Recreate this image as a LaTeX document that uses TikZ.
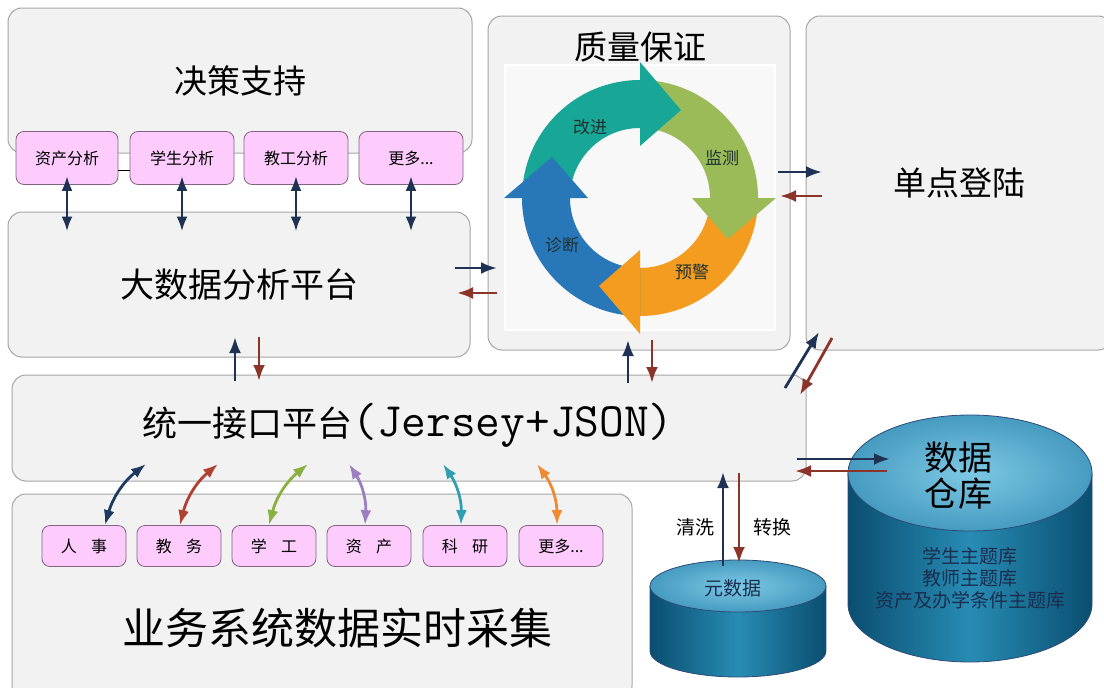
\documentclass[tikz,border=0pt]{standalone}
\usepackage{fontspec}
\setmainfont{Noto Sans CJK SC}
\usetikzlibrary{arrows.meta}

\newcommand{\fsz}[1]{\fontsize{#1}{#1}\selectfont}

\definecolor{navy}{RGB}{31,50,84}
\definecolor{brick}{RGB}{140,52,42}
\definecolor{panelfill}{RGB}{242,242,242}
\definecolor{panelline}{RGB}{166,166,166}
\definecolor{pinkfill}{RGB}{253,204,253}
\definecolor{pinkline}{RGB}{130,100,130}
\definecolor{cteal}{RGB}{24,166,150}
\definecolor{cgreen}{RGB}{155,187,89}
\definecolor{corange}{RGB}{243,156,31}
\definecolor{cblue}{RGB}{40,120,185}
\definecolor{ctext}{RGB}{30,50,50}
\definecolor{cyldark}{RGB}{10,78,112}
\definecolor{cylmid}{RGB}{40,140,180}
\definecolor{cyltop}{RGB}{125,200,228}
\definecolor{cyltopb}{RGB}{70,155,192}
\definecolor{cylline}{RGB}{45,75,120}
\definecolor{cyltext}{RGB}{25,45,80}
\definecolor{anavy}{RGB}{31,58,96}
\definecolor{ared}{RGB}{176,64,48}
\definecolor{agreen}{RGB}{138,176,64}
\definecolor{apurple}{RGB}{154,128,192}
\definecolor{ateal}{RGB}{48,160,176}
\definecolor{aorange}{RGB}{240,138,48}

\tikzset{
  panel/.style={draw=panelline, fill=panelfill, rounded corners=14pt, line width=1pt},
  tag/.style={draw=pinkline, fill=pinkfill, rounded corners=8pt, line width=0.8pt, font=\fsz{16}},
  link/.style={navy, line width=2.8pt, -{Latex[length=16pt,width=12pt]}},
  back/.style={brick, line width=2.8pt, -{Latex[length=16pt,width=12pt]}},
  twoway/.style={line width=2.8pt, {Latex[length=15pt,width=11pt]}-{Latex[length=15pt,width=11pt]}},
  cyclabel/.style={font=\fsz{17}, text=ctext}
}

\begin{document}
\begin{tikzpicture}[x=1pt, y=-1pt]
\useasboundingbox[fill=white] (0,0) rectangle (1104,688);

% big panels
\node[panel, minimum width=464pt, minimum height=145pt, font=\fsz{33}] (dec) at (240,80.5) {决策支持};
\node[panel, minimum width=462pt, minimum height=145pt, font=\fsz{34}] (bd) at (239,284.5) {大数据分析平台};
\node[panel, minimum width=302pt, minimum height=334pt] (qa) at (639,183) {};
\node[panel, minimum width=306pt, minimum height=334pt, font=\fsz{33}] (sso) at (959,183) {单点登陆};
\node[panel, minimum width=794pt, minimum height=106pt] (api) at (409,428) {};
\node[panel, minimum width=620pt, minimum height=206pt] (ys) at (322,597) {};

\node[font=\fsz{35}] (apit) at (408,425) {统一接口平台{\ttfamily\addfontfeatures{FakeBold=1.4}\fsz{48}(Jersey+JSON)}};
\node[font=\fsz{43}] (yst) at (337,628) {业务系统数据实时采集};

% quality loop
\node[fill=panelfill!50!white, draw=white, line width=1.5pt, minimum width=270pt, minimum height=265pt] (inner) at (640,197.5) {};
\node[font=\fsz{33}] (qat) at (640,47) {质量保证};
\begin{scope}[shift={(640,198)}, yscale=-1]
  \foreach \a/\c [evaluate=\a as \b using \a-90] in {180/cteal, 90/cgreen, 0/corange, -90/cblue}
    \fill[\c] (\a:118) arc[start angle=\a, end angle=\b, radius=118] -- (\b:70) arc[start angle=\b, end angle=\a, radius=70] -- cycle;
  \foreach \a/\c [evaluate=\a as \b using \a-90, evaluate=\a as \t using \a-115] in {180/cteal, 90/cgreen, 0/corange, -90/cblue}
    \fill[\c] (\b:136) -- (\t:97) -- (\b:52) -- cycle;
\end{scope}
\node[cyclabel] (gj) at (590,127) {改进};
\node[cyclabel] (jc) at (722,158) {监测};
\node[cyclabel] (yj) at (692,272) {预警};
\node[cyclabel] (zd) at (562,245) {诊断};

% analysis tags
\node[tag, minimum width=102pt, minimum height=53pt] (p1) at (67,158) {资产分析};
\node[tag, minimum width=104pt, minimum height=53pt] (p2) at (182,158) {学生分析};
\node[tag, minimum width=104pt, minimum height=53pt] (p3) at (296,158) {教工分析};
\node[tag, minimum width=104pt, minimum height=53pt] (p4) at (411,158) {更多...};
\draw[thin] ([yshift=-12pt]p1.east) -- ([yshift=-12pt]p2.west);

% source tags
\node[tag, minimum width=84pt, minimum height=41pt] (q1) at (84,546) {人\hspace{0.9em}事};
\node[tag, minimum width=84pt, minimum height=41pt] (q2) at (179,546) {教\hspace{0.9em}务};
\node[tag, minimum width=84pt, minimum height=41pt] (q3) at (274,546) {学\hspace{0.9em}工};
\node[tag, minimum width=84pt, minimum height=41pt] (q4) at (369,546) {资\hspace{0.9em}产};
\node[tag, minimum width=84pt, minimum height=41pt] (q5) at (465,546) {科\hspace{0.9em}研};
\node[tag, minimum width=84pt, minimum height=41pt] (q6) at (561,546) {更多...};

% data warehouse
\shade[left color=cyldark, right color=cyldark, middle color=cylmid, draw=cylline, line width=0.8pt]
  (848,473) -- (848,604) arc[start angle=180, end angle=0, x radius=122, y radius=58] -- (1092,473) -- cycle;
\shade[inner color=cyltop, outer color=cyltopb, draw=cylline, line width=0.8pt] (970,473) ellipse[x radius=122, y radius=58];
\node[font=\fsz{34}, align=center] (dw) at (958,476) {数据\\[2pt]仓库};
\node[font=\fsz{19}, text=cyltext, align=center] (dwt) at (970,578) {学生主题库\\[3pt]教师主题库\\[3pt]资产及办学条件主题库};

% meta data
\shade[left color=cyldark, right color=cyldark, middle color=cylmid, draw=cylline, line width=0.8pt]
  (650,586) -- (650,651) arc[start angle=180, end angle=0, x radius=88, y radius=26] -- (826,586) -- cycle;
\shade[inner color=cyltop, outer color=cyltopb, draw=cylline, line width=0.8pt] (738,586) ellipse[x radius=88, y radius=26];
\node[font=\fsz{19}, text=cyltext] (meta) at (733,588) {元数据};
\node[font=\fsz{19}] (qx) at (695,527) {清洗};
\node[font=\fsz{19}] (zh) at (772,527) {转换};

% arrow ends
\coordinate (bq1) at (455,268); \coordinate (bq2) at (497,268);
\coordinate (bq3) at (497,293); \coordinate (bq4) at (457,293);
\coordinate (qs1) at (778,172); \coordinate (qs2) at (822,172);
\coordinate (qs3) at (822,196); \coordinate (qs4) at (780,196);
\coordinate (ab1) at (235,381); \coordinate (ab2) at (235,337);
\coordinate (ab3) at (259,337); \coordinate (ab4) at (259,381);
\coordinate (aq1) at (628,383); \coordinate (aq2) at (628,340);
\coordinate (aq3) at (652,340); \coordinate (aq4) at (652,383);
\coordinate (as1) at (785,388); \coordinate (as2) at (819,332);
\coordinate (as3) at (832,338); \coordinate (as4) at (800,395);
\coordinate (aw1) at (797,459); \coordinate (aw2) at (890,459);
\coordinate (aw3) at (887,471); \coordinate (aw4) at (795,471);
\coordinate (am1) at (723,566); \coordinate (am2) at (723,472);
\coordinate (am3) at (739,473); \coordinate (am4) at (739,563);

\draw[link] (bq1) -- (bq2);  \draw[back] (bq3) -- (bq4);
\draw[link] (qs1) -- (qs2);  \draw[back] (qs3) -- (qs4);
\draw[link] (ab1) -- (ab2);  \draw[back] (ab3) -- (ab4);
\draw[link] (aq1) -- (aq2);  \draw[back] (aq3) -- (aq4);
\draw[link] (as1) -- (as2);  \draw[back] (as3) -- (as4);
\draw[link] (aw1) -- (aw2);  \draw[back] (aw3) -- (aw4);
\draw[link] (am1) -- (am2);  \draw[back] (am3) -- (am4);

% tags to big data platform
\foreach \i in {1,...,4}
  \draw[twoway, navy] ([yshift=9pt]p\i.south) -- ([yshift=-20pt]p\i.south |- bd.north);

% sources to interface platform
\coordinate (u1) at (146,464); \coordinate (u2) at (218,464);
\coordinate (u3) at (308,464); \coordinate (u4) at (349,464);
\coordinate (u5) at (443,464); \coordinate (u6) at (537,464);
\draw[twoway, anavy]   ([xshift=21pt]q1.north) to[bend left=18] (u1);
\draw[twoway, ared]    ([xshift=1pt]q2.north) to[bend left=18] (u2);
\draw[twoway, agreen]  ([xshift=-5pt]q3.north) to[bend left=18] (u3);
\draw[twoway, apurple] ([xshift=-4pt]q4.north) to[bend right=18] (u4);
\draw[twoway, ateal]   ([xshift=-4pt]q5.north) to[bend right=18] (u5);
\draw[twoway, aorange] ([xshift=-4pt]q6.north) to[bend right=18] (u6);
\end{tikzpicture}
\end{document}
